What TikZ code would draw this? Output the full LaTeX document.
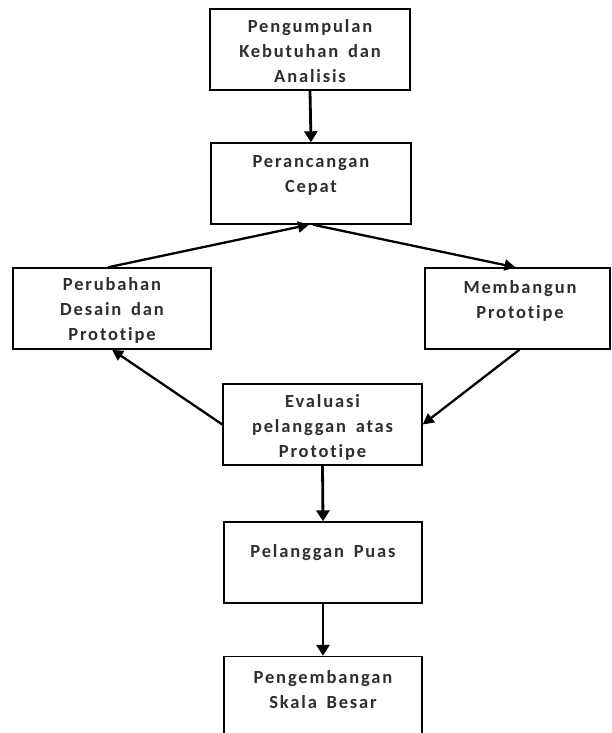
\documentclass[tikz,border=0pt]{standalone}
\usepackage{fontspec}
\newfontfamily\boxfont{Carlito}[LetterSpace=10, WordSpace=1.6, Ligatures={NoCommon}]
\usetikzlibrary{arrows.meta}
\definecolor{txt}{HTML}{2E2E2E}
\tikzset{
  box/.style={draw=black, line width=1.4pt, inner sep=0pt, fill=white},
  lbl/.style={align=center, text=txt, inner sep=0pt, font=\boxfont\bfseries\fontsize{18.5}{25}\selectfont},
  arr/.style={line width=2.8pt, -{Triangle[length=11pt,width=13pt]}},
  darr/.style={line width=2.3pt, -{Triangle[length=11pt,width=11pt]}}
}
\begin{document}
\begin{tikzpicture}[x=1pt,y=-1pt]
\useasboundingbox (0,0) rectangle (611,733);
\clip (0,0) rectangle (611,733);
\node[box, minimum width=200pt, minimum height=81pt] (b1) at (310,49.5) {};
\node[box, minimum width=200pt, minimum height=81pt] (b2) at (311,183.5) {};
\node[box, minimum width=198pt, minimum height=81pt] (b3) at (112,308.5) {};
\node[box, minimum width=185pt, minimum height=81pt] (b4) at (517.5,308.5) {};
\node[box, minimum width=199pt, minimum height=81pt] (b5) at (322.5,424.5) {};
\node[box, minimum width=198pt, minimum height=81pt] (b6) at (323,562.5) {};
\node[box, minimum width=198pt, minimum height=81pt] (b7) at (323,697) {};
\node[lbl] (t1) at (310,51) {Pengumpulan\\Kebutuhan dan\\Analisis};
\node[lbl] (t2) at (311,175.5) {Perancangan\\Cepat};
\node[lbl] (t3) at (112,310) {Perubahan\\Desain dan\\Prototipe};
\node[lbl] (t4) at (520,300.5) {Membangun\\Prototipe};
\node[lbl] (t5) at (322.5,427) {Evaluasi\\pelanggan atas\\Prototipe};
\node[lbl] (t6) at (323,553) {Pelanggan Puas};
\node[lbl] (t7) at (323,689.5) {Pengembangan\\Skala Besar};
\draw[arr] (b1.south) -- (b2.north);
\draw[darr] ([xshift=-4pt]b3.north) -- ([xshift=-2pt]b2.south);
\draw[darr] ([xshift=2pt]b2.south) -- ([xshift=-2pt]b4.north);
\draw[darr] ([xshift=2pt]b4.south) -- (b5.east);
\draw[darr] (b5.west) -- (b3.south);
\draw[arr] (b5.south) -- (b6.north);
\draw[arr] (b6.south) -- (b7.north);
\end{tikzpicture}
\end{document}
